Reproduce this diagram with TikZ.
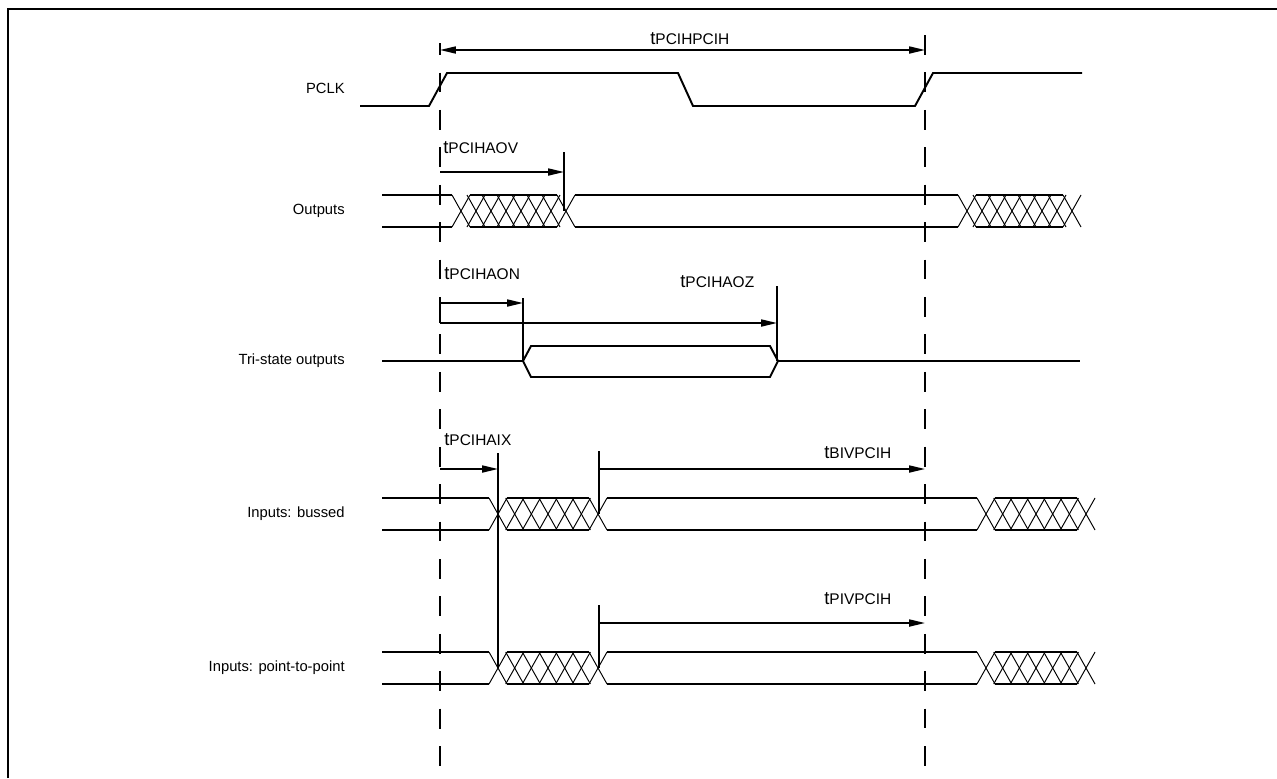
\documentclass[tikz,border=0pt]{standalone}
\usepackage{fontspec}
\setmainfont{Liberation Sans}
\usetikzlibrary{arrows.meta}

\newcommand{\tname}[1]{{\fontsize{10.5}{12}\selectfont t}{\fontsize{8.8}{10}\selectfont #1}}

\begin{document}
\begin{tikzpicture}[
    x=0.02cm, y=-0.02cm,
    sig/.style={line width=1.1pt},
    hatch/.style={line width=0.55pt},
    guide/.style={line width=1.1pt, dash pattern=on 11.3pt off 10pt},
    tline/.style={line width=0.9pt},
    arr/.style={
      -{Triangle[length=9pt,width=4pt]},
      line width=0.9pt
    },
    lbl/.style={
      anchor=east,
      font=\fontsize{8.4}{10}\selectfont,
      inner sep=0pt
    },
    tlbl/.style={anchor=base west, inner sep=0pt}
  ]

  \useasboundingbox (0,0) rectangle (1277,778);

  % frame
  \draw[line width=1.7pt] (8,778) -- (8,9) -- (1277,9);

  % guide lines
  \coordinate (g0) at (440,43);
  \coordinate (g1) at (925,35);
  \draw[guide, dash phase=4.5pt] (g0) -- (g0 |- 0,778);
  \draw[guide] (g1) -- (g1 |- 0,778);

  % signal names
  \node[lbl] (pclk) at (345,88)  {PCLK};
  \node[lbl] (outs) at (345,211) {Outputs};
  \node[lbl] (tri)  at (345,361) {Tri-state outputs};
  \node[lbl] (bus)  at (345,514) {Inputs: bussed};
  \node[lbl] (p2p)  at (345,668) {Inputs: point-to-point};

  % PCLK
  \draw[sig] (360,106) -- (429,106) -- (447,73) -- (678,73) -- (693,106)
    -- (915,106) -- (933,73) -- (1082,73);

  % buses
  \draw[sig] (382,195) -- (452,195)  (382,227) -- (452,227);
  \draw[sig] (575,195) -- (958,195)  (575,227) -- (958,227);
  \draw[sig] (382,498) -- (489,498)  (382,530) -- (489,530);
  \draw[sig] (607,498) -- (977,498)  (607,530) -- (977,530);
  \draw[sig] (382,652) -- (489,652)  (382,684) -- (489,684);
  \draw[sig] (607,652) -- (977,652)  (607,684) -- (977,684);

  % hatched (invalid) parts
  \foreach \xs/\st/\n/\yt in {452/15/7/195, 958/15/7/195,
                              489/16.67/6/498, 977/16.67/6/498,
                              489/16.67/6/652, 977/16.67/6/652} {
    \foreach \i in {0,...,\n} {
      \draw[hatch] (\xs+\st*\i,\yt) -- ++(18,32);
      \draw[hatch] (\xs+\st*\i,\yt+32) -- ++(18,-32);
    }
    \draw[sig] (\xs+18,\yt) -- (\xs+\st*\n,\yt)
               (\xs+18,\yt+32) -- (\xs+\st*\n,\yt+32);
  }

  % tri-state
  \draw[sig] (382,361) -- (523,361) -- (531,346) -- (770,346) -- (778,361)
    -- (770,377) -- (531,377) -- (523,361);
  \draw[sig] (778,361) -- (1080,361);

  % tPCIHPCIH
  \coordinate (hh0) at (440,50);
  \coordinate (hh1) at (925,50);
  \draw[arr, {Triangle[length=9pt,width=4pt]}-{Triangle[length=9pt,width=4pt]}] (hh0) -- (hh1);
  \node[tlbl] (thh) at (650,44) {\tname{PCIHPCIH}};

  % tPCIHAOV
  \coordinate (aov0) at (440,172);
  \coordinate (aov1) at (564,172);
  \draw[tline] (564,152) -- (564,211);
  \draw[arr] (aov0) -- (aov1);
  \node[tlbl] (taov) at (443,153) {\tname{PCIHAOV}};

  % tPCIHAON / tPCIHAOZ
  \coordinate (aon0) at (440,303);
  \coordinate (aon1) at (523,303);
  \coordinate (aoz0) at (440,323);
  \coordinate (aoz1) at (777,323);
  \draw[tline] (523,298) -- (523,361);
  \draw[tline] (777,286) -- (777,361);
  \draw[tline] (aon0) -- (aoz0);
  \draw[arr] (aon0) -- (aon1);
  \draw[arr] (aoz0) -- (aoz1);
  \node[tlbl] (taon) at (444,279) {\tname{PCIHAON}};
  \node[tlbl] (taoz) at (680,287) {\tname{PCIHAOZ}};

  % tPCIHAIX
  \coordinate (aix0) at (440,469);
  \coordinate (aix1) at (498,469);
  \draw[tline] (498,453) -- (498,668);
  \draw[arr] (aix0) -- (aix1);
  \node[tlbl] (taix) at (444,445) {\tname{PCIHAIX}};

  % tBIVPCIH
  \coordinate (biv0) at (599,469);
  \coordinate (biv1) at (925,469);
  \draw[tline] (599,451) -- (599,514);
  \draw[arr] (biv0) -- (biv1);
  \node[tlbl] (tbiv) at (824,458) {\tname{BIVPCIH}};

  % tPIVPCIH
  \coordinate (piv0) at (599,623);
  \coordinate (piv1) at (925,623);
  \draw[tline] (599,605) -- (599,668);
  \draw[arr] (piv0) -- (piv1);
  \node[tlbl] (tpiv) at (824,604) {\tname{PIVPCIH}};

\end{tikzpicture}
\end{document}
